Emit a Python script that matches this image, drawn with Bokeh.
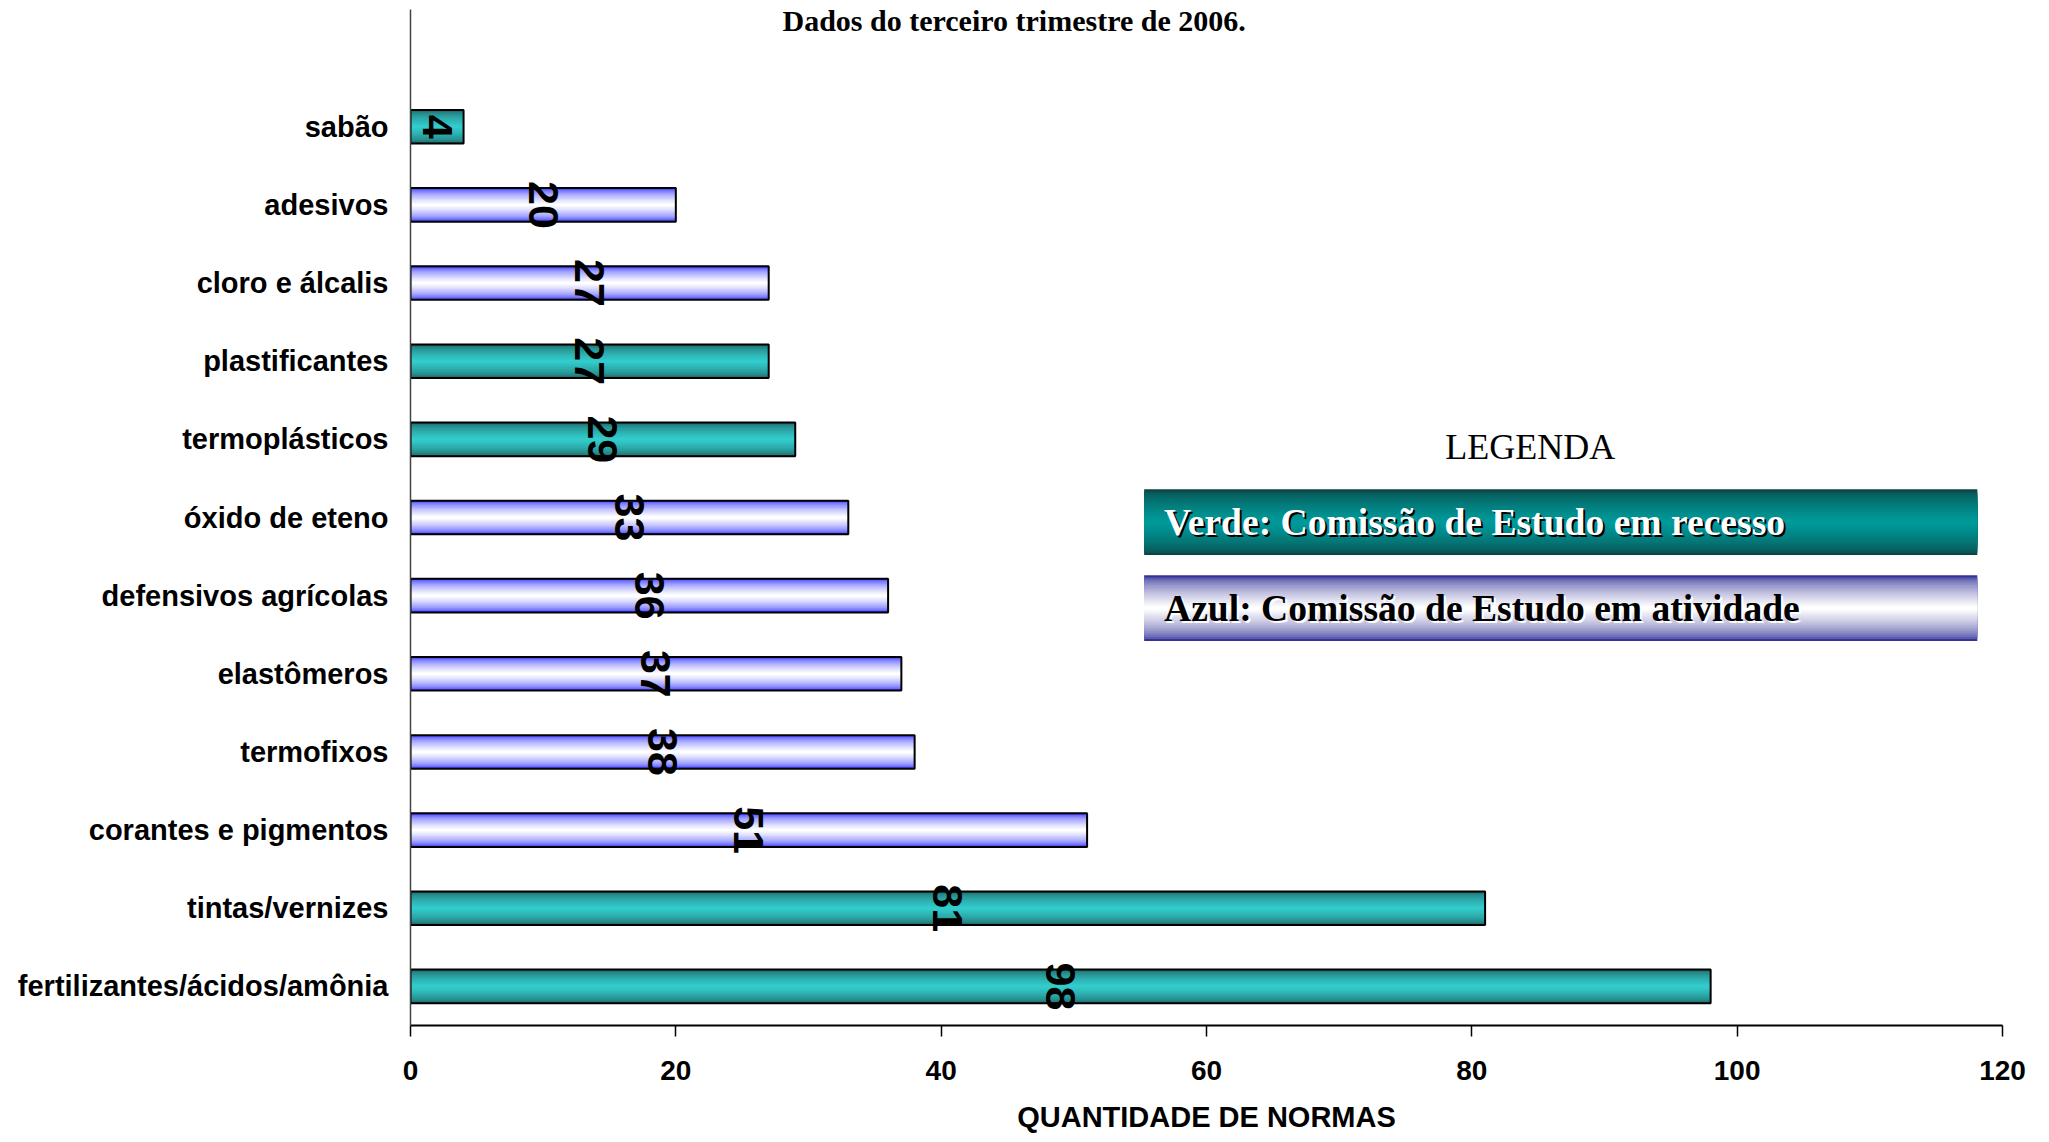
import math
from bokeh.plotting import figure
from bokeh.models import Range1d, FixedTicker, Label, BoxAnnotation, ColumnDataSource
from bokeh.embed import file_html
from bokeh.resources import INLINE
from bokeh.core.properties import value

# ---------------- data ----------------
categories = ["fertilizantes/ácidos/amônia", "tintas/vernizes", "corantes e pigmentos",
              "termofixos", "elastômeros", "defensivos agrícolas", "óxido de eteno",
              "termoplásticos", "plastificantes", "cloro e álcalis", "adesivos", "sabão"]
counts = [98, 81, 51, 38, 37, 36, 33, 29, 27, 27, 20, 4]
status = ["recesso", "recesso", "atividade", "atividade", "atividade", "atividade",
          "atividade", "recesso", "recesso", "atividade", "atividade", "recesso"]
x_ticks = [0, 20, 40, 60, 80, 100, 120]
title_text = "Dados do terceiro trimestre de 2006."
x_label = "QUANTIDADE DE NORMAS"
legend_title = "LEGENDA"
legend_green = "Verde: Comissão de Estudo em recesso"
legend_blue = "Azul: Comissão de Estudo em atividade"

SANS = "Liberation Sans"
SERIF = "Liberation Serif"

pos = list(range(len(categories)))


def hex2rgb(h):
    h = h.lstrip("#")
    return tuple(int(h[i:i + 2], 16) for i in (0, 2, 4))


def lerp(c1, c2, t):
    a, b = hex2rgb(c1), hex2rgb(c2)
    return "#%02x%02x%02x" % tuple(int(round(a[i] + (b[i] - a[i]) * t)) for i in range(3))


p = figure(width=2033, height=1140, output_backend="svg", toolbar_location=None,
           x_range=Range1d(0, 120), y_range=Range1d(-0.5, len(categories) + 0.5),
           min_border_left=410, min_border_right=31, min_border_top=9,
           min_border_bottom=115)
p.outline_line_color = None
p.xgrid.visible = False
p.ygrid.visible = False
p.background_fill_color = "white"
p.border_fill_color = "white"

# ---------------- bars with vertical gradient ----------------
BAR_H = 0.43
N = 14
styles = {"recesso": ("#1d5f5f", "#33cccc"), "atividade": ("#3333ff", "#ffffff")}
for st, (edge, mid) in styles.items():
    idx = [i for i in pos if status[i] == st]
    src = ColumnDataSource(dict(y=[pos[i] for i in idx], v=[counts[i] for i in idx]))
    for k in range(N):
        t = (k / (N - 1)) ** 0.55
        h = BAR_H * (1 - k / N)
        p.hbar(y="y", right="v", left=0, height=h, source=src,
               fill_color=lerp(edge, mid, t), line_color=None)
    p.hbar(y="y", right="v", left=0, height=BAR_H, source=src,
           fill_alpha=0, line_color="black", line_width=2)

# value labels, rotated
lab_src = ColumnDataSource(dict(x=[c / 2 for c in counts], y=pos, t=[str(c) for c in counts]))
p.text(x="x", y="y", text="t", source=lab_src, angle=-math.pi / 2,
       text_align="center", text_baseline="middle", text_font=value(SANS),
       text_font_style="bold", text_font_size="43px", text_color="black")

# ---------------- axes ----------------
p.xaxis.ticker = FixedTicker(ticks=x_ticks)
p.xaxis.axis_label = x_label
p.xaxis.axis_label_text_font = SANS
p.xaxis.axis_label_text_font_style = "bold"
p.xaxis.axis_label_text_font_size = "29px"
p.xaxis.axis_label_text_color = "black"
p.xaxis.axis_label_standoff = 18
p.xaxis.major_label_text_font = SANS
p.xaxis.major_label_text_font_style = "bold"
p.xaxis.major_label_text_font_size = "28px"
p.xaxis.major_label_text_color = "black"
p.xaxis.major_label_standoff = 24
p.xaxis.major_tick_in = 0
p.xaxis.major_tick_out = 11
p.xaxis.major_tick_line_width = 1.5
p.xaxis.major_tick_line_color = "black"
p.xaxis.minor_tick_line_color = None
p.xaxis.axis_line_width = 2
p.xaxis.axis_line_color = "black"

p.yaxis.ticker = FixedTicker(ticks=pos)
p.yaxis.major_label_overrides = {i: categories[i] for i in pos}
p.yaxis.major_label_text_font = SANS
p.yaxis.major_label_text_font_style = "bold"
p.yaxis.major_label_text_font_size = "29px"
p.yaxis.major_label_text_color = "black"
p.yaxis.major_label_standoff = 16
p.yaxis.major_tick_line_color = None
p.yaxis.minor_tick_line_color = None
p.yaxis.axis_line_color = "#444444"
p.yaxis.axis_line_width = 1.5

# ---------------- title (top of chart) ----------------
p.add_layout(Label(x=45.5, y=len(categories) + 0.5, y_offset=6, text=title_text,
                   text_align="center", text_baseline="top", text_font=SERIF,
                   text_font_style="bold", text_font_size="30px", text_color="black"))

# ---------------- legend boxes ----------------
def grad_box(left, right, bottom, top, edge, mid, n=16, power=0.6):
    c = (bottom + top) / 2
    H = top - bottom
    for k in range(n):
        t = (k / (n - 1)) ** power
        h = H * (1 - k / n)
        p.add_layout(BoxAnnotation(left=left, right=right, bottom=c - h / 2, top=c + h / 2,
                                   fill_color=lerp(edge, mid, t), fill_alpha=1,
                                   line_alpha=0, level="underlay"))

grad_box(55.3, 118.1, 5.52, 6.36, "#0b4646", "#009999")
grad_box(55.3, 118.1, 4.42, 5.26, "#333399", "#ffffff")

p.add_layout(Label(x=84.4, y=6.90, text=legend_title, text_align="center",
                   text_baseline="middle", text_font=SERIF, text_font_size="36px",
                   text_color="black"))

for txt, yc, fg, sh in [(legend_green, 5.94, "white", "black"),
                        (legend_blue, 4.83, "black", "white")]:
    p.add_layout(Label(x=56.8, y=yc, x_offset=2, y_offset=-2, text=txt, text_align="left",
                       text_baseline="middle", text_font=SERIF, text_font_style="bold",
                       text_font_size="37.6px", text_color=sh))
    p.add_layout(Label(x=56.8, y=yc, text=txt, text_align="left",
                       text_baseline="middle", text_font=SERIF, text_font_style="bold",
                       text_font_size="37.6px", text_color=fg))

open("out.html", "w").write(file_html(p, INLINE))
